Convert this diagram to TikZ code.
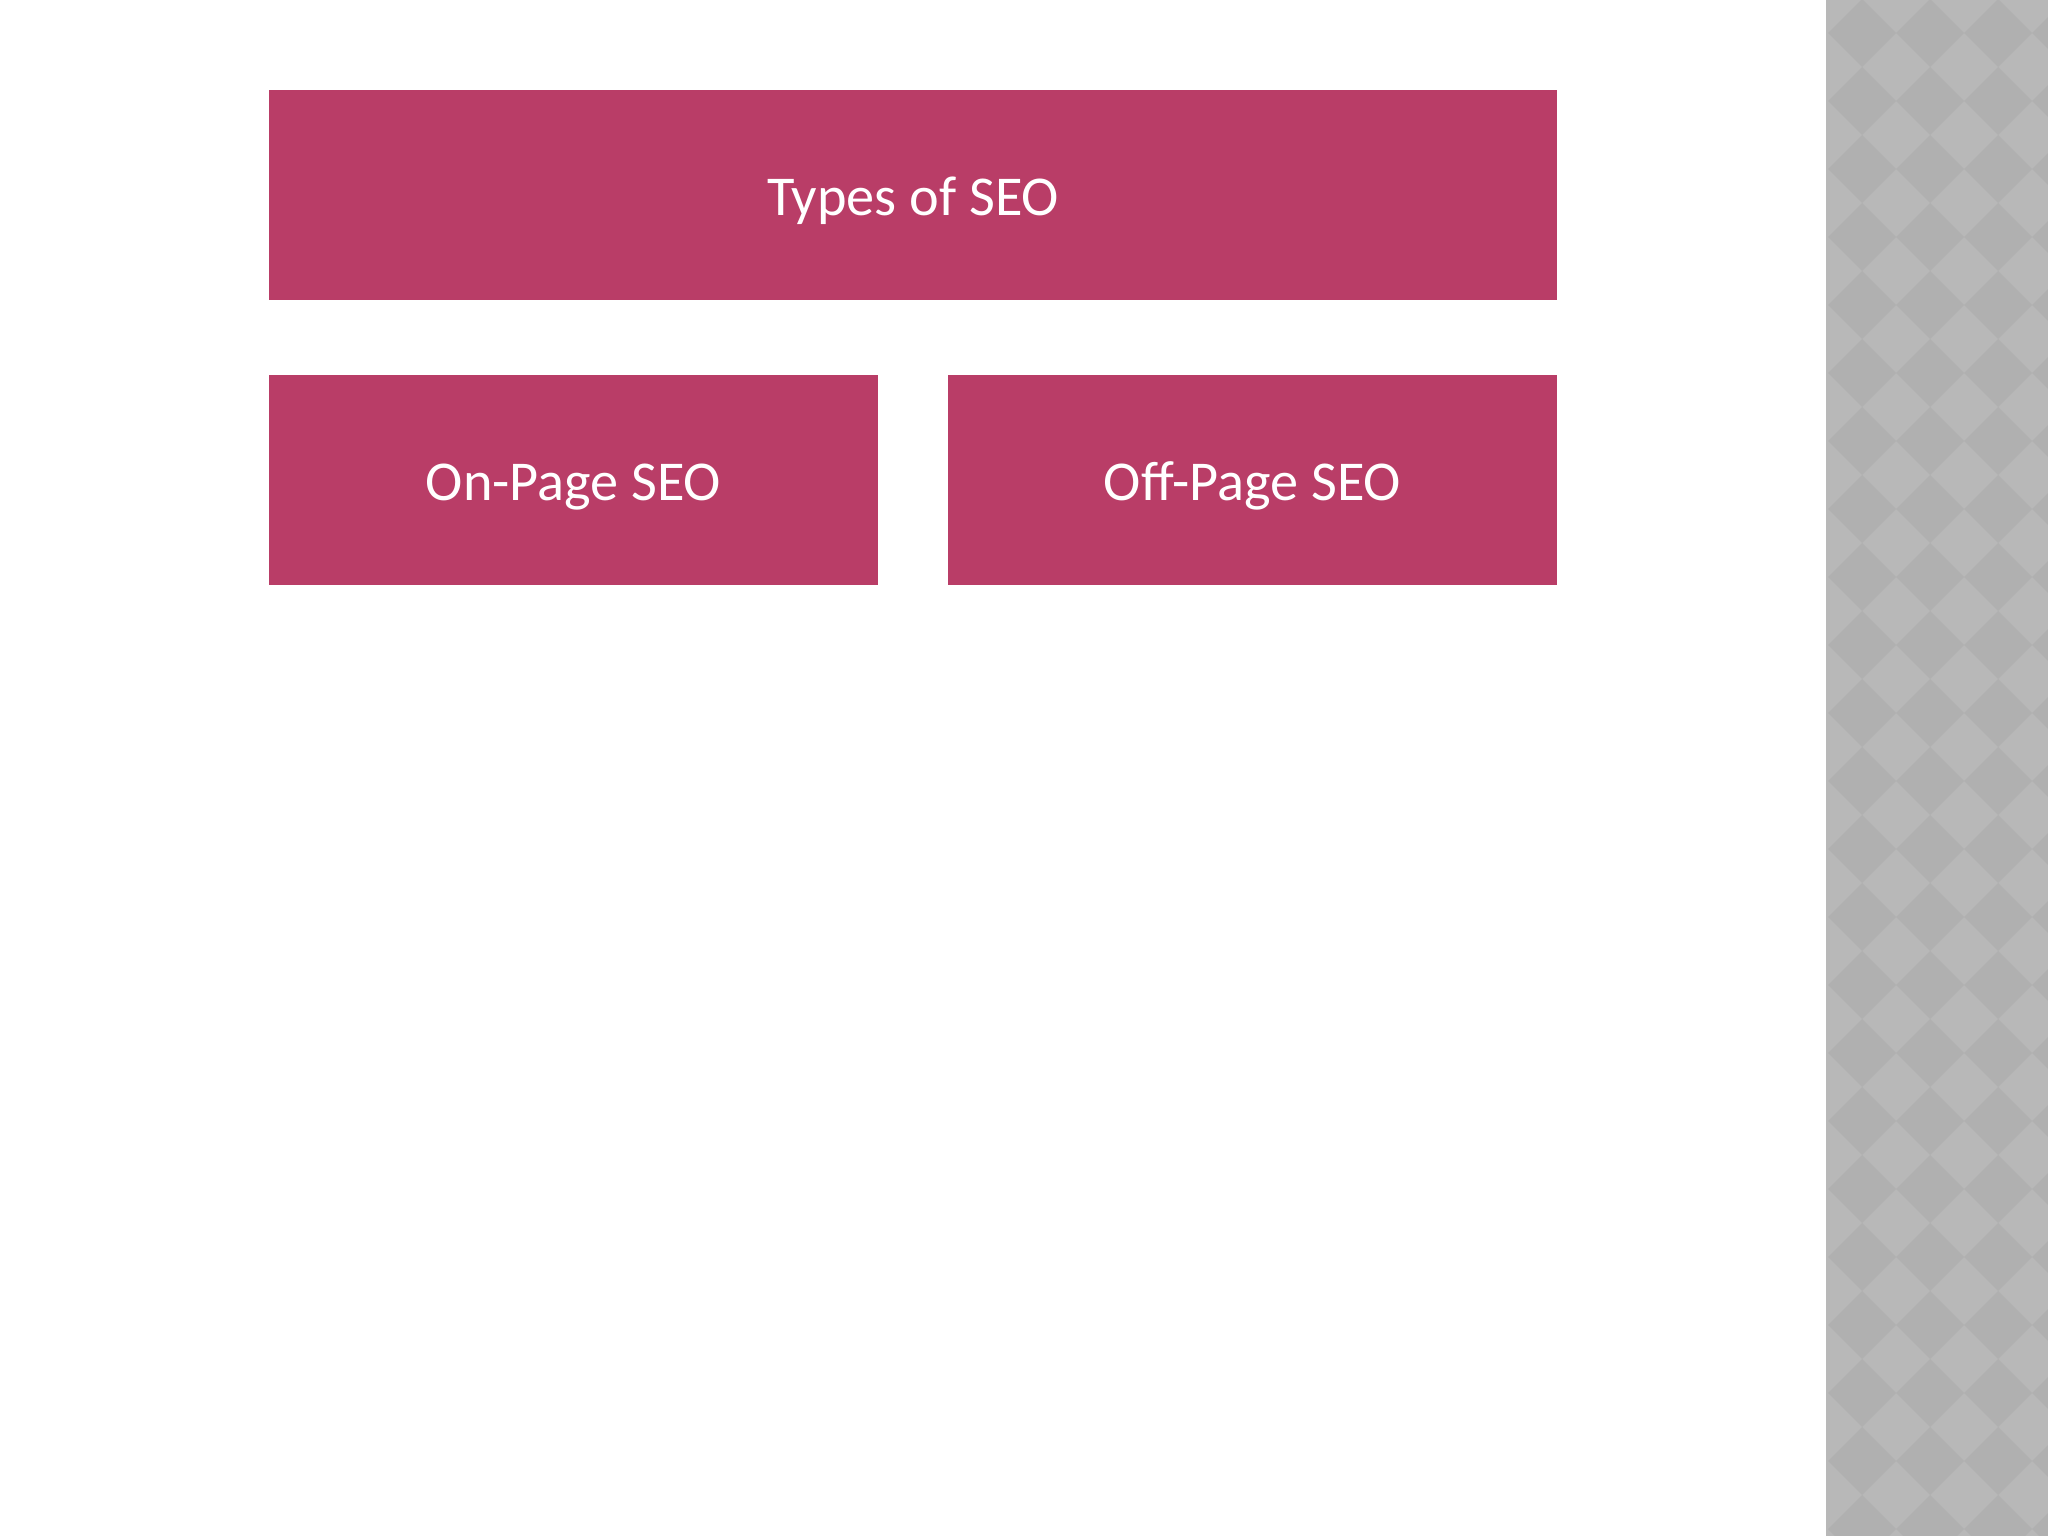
\documentclass[tikz,border=0pt]{standalone}
\usepackage{fontspec}
\setmainfont{Carlito}
\definecolor{seored}{RGB}{185,61,103}
\definecolor{stripbase}{RGB}{184,184,184}
\definecolor{stripdark}{RGB}{176,176,176}

\begin{document}
\begin{tikzpicture}[x=0.01cm, y=-0.01cm,
    seobox/.style={fill=seored, draw=none, text=white, inner sep=0pt,
        minimum height=2.1cm, text height=11.5pt, text depth=0pt,
        font=\fontsize{16}{20}\selectfont}]
        \useasboundingbox (0,0) rectangle (2048,1536);
        \fill[white] (0,0) rectangle (2048,1536);
        % patterned strip
        \fill[stripbase] (1826,0) rectangle (2048,1536);
        \begin{scope}
            \clip (1826,0) rectangle (2048,1536);
            \foreach \i in {0,...,3} {
                \foreach \j in {0,...,23} {
                    \fill[stripdark] (1862+68*\i,33+68*\j) ++(-34,0) -- ++(34,-34) -- ++(34,34) -- ++(-34,34) -- cycle;
                }
            }
        \end{scope}
        % boxes
        \node[seobox, minimum width=12.88cm] (types) at (913,195) {Types of SEO};
        \node[seobox, minimum width=6.09cm] (onpage) at (573.5,480) {On-Page SEO};
        \node[seobox, minimum width=6.09cm] (offpage) at (1252.5,480) {Off-Page SEO};
    \end{tikzpicture}
\end{document}
